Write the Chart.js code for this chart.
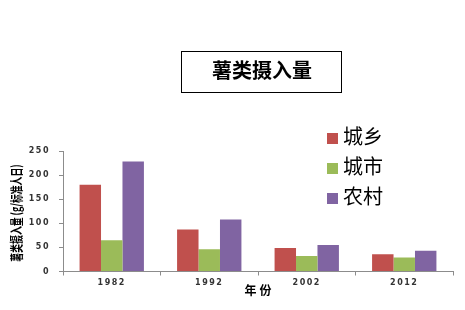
<!DOCTYPE html>
<html>
<head>
<meta charset="utf-8">
<script src="https://cdn.jsdelivr.net/npm/chart.js@4/dist/chart.umd.min.js"></script>
<style>
  html, body { margin: 0; padding: 0; background: #fff; }
  #wrap { position: relative; width: 465px; height: 310px; }
</style>
</head>
<body>
<div id="wrap"><canvas id="c" width="465" height="310"></canvas></div>
<script>
// 薯类摄入量 (g/标准人日)
const years = ['1982', '1992', '2002', '2012'];
const seriesNames = ['城乡', '城市', '农村'];
const urbanRural = [180, 87, 49, 36];
const urban = [65, 46, 32, 29];
const rural = [228, 108, 55, 43];
const yTicks = [0, 50, 100, 150, 200, 250];

const colors = ['#C0504D', '#9BBB59', '#8064A2'];
const CJK = '"Noto Sans CJK SC", "DejaVu Sans", sans-serif';

// Wide-spaced tick digits
const tickSpacing = {
  id: 'tickSpacing',
  beforeDraw(chart) { chart.ctx.letterSpacing = '1.5px'; },
  afterDatasetsDraw(chart) { chart.ctx.letterSpacing = '0px'; }
};

// Title box, rotated/condensed y title, x title and the legend drawn over the plot
const decorations = {
  id: 'decorations',
  afterDraw(chart) {
    const ctx = chart.ctx;
    const area = chart.chartArea;
    ctx.save();
    ctx.letterSpacing = '0px';

    // title box
    ctx.strokeStyle = '#000';
    ctx.lineWidth = 1;
    ctx.strokeRect(181.5, 51.5, 160, 41);
    ctx.fillStyle = '#000';
    ctx.font = 'bold 20px ' + CJK;
    ctx.textAlign = 'center';
    ctx.textBaseline = 'middle';
    ctx.fillText('薯类摄入量', 262, 70);

    // y axis title (condensed, rotated)
    ctx.save();
    ctx.translate(16, 213);
    ctx.rotate(-Math.PI / 2);
    ctx.scale(0.68, 1);
    ctx.font = 'bold 13px ' + CJK;
    ctx.fillStyle = '#000';
    ctx.fillText('薯类摄入量 (g/标准人日)', 0, 0);
    ctx.restore();

    // x axis title
    ctx.font = 'bold 12px ' + CJK;
    ctx.letterSpacing = '3px';
    ctx.fillStyle = '#000';
    ctx.fillText('年份', (area.left + area.right) / 2 + 1.5, 290);
    ctx.letterSpacing = '0px';

    // legend
    ctx.textAlign = 'left';
    ctx.font = '20px ' + CJK;
    chart.data.datasets.forEach((ds, i) => {
      const y = 136 + i * 30;
      ctx.fillStyle = ds.backgroundColor;
      ctx.fillRect(327, y - 3, 11, 11);
      ctx.fillStyle = '#000';
      ctx.fillText(ds.label, 343, y);
    });
    ctx.restore();
  }
};

new Chart(document.getElementById('c'), {
  type: 'bar',
  data: {
    labels: years,
    datasets: [
      { label: seriesNames[0], data: urbanRural, backgroundColor: colors[0] },
      { label: seriesNames[1], data: urban, backgroundColor: colors[1] },
      { label: seriesNames[2], data: rural, backgroundColor: colors[2] }
    ]
  },
  options: {
    responsive: false,
    animation: false,
    devicePixelRatio: 1,
    layout: { padding: { left: 0, right: 12, top: 151, bottom: 0 } },
    plugins: { legend: { display: false }, tooltip: { enabled: false } },
    datasets: { bar: { categoryPercentage: 0.66, barPercentage: 1.0 } },
    scales: {
      x: {
        grid: { display: true, drawOnChartArea: false, drawTicks: true, tickLength: 4, color: '#8c8c8c', offset: true },
        border: { display: true, color: '#8c8c8c' },
        ticks: { color: '#333333', font: { family: '"DejaVu Sans", sans-serif', size: 8, weight: 'bold' }, padding: 3, maxRotation: 0 },
        afterFit(scale) { scale.height = 38.5; }
      },
      y: {
        min: 0,
        max: 250,
        afterBuildTicks(scale) { scale.ticks = yTicks.map(v => ({ value: v })); },
        grid: { display: true, drawOnChartArea: false, drawTicks: true, tickLength: 4, color: '#8c8c8c' },
        border: { display: true, color: '#8c8c8c' },
        ticks: { color: '#333333', font: { family: '"DejaVu Sans", sans-serif', size: 8, weight: 'bold' }, padding: 9 },
        afterFit(scale) { scale.width = 63; }
      }
    }
  },
  plugins: [tickSpacing, decorations]
});
</script>
</body>
</html>
